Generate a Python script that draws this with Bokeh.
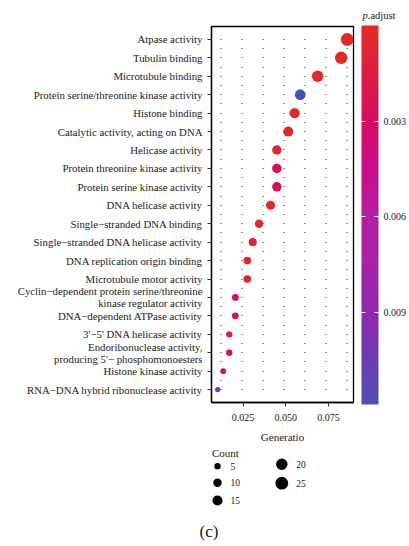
import numpy as np
from bokeh.plotting import figure
from bokeh.models import (FactorRange, Range1d, FixedTicker, ColorBar, LinearColorMapper,
                          Label, Grid, ColumnDataSource, NumeralTickFormatter,
                          CustomJSTickFormatter, AllLabels)
from bokeh.layouts import column
from bokeh.embed import file_html
from bokeh.resources import INLINE

# ---------------- data (top to bottom) ----------------
terms = [
    "Atpase activity",
    "Tubulin binding",
    "Microtubule binding",
    "Protein serine/threonine kinase activity",
    "Histone binding",
    "Catalytic activity, acting on DNA",
    "Helicase activity",
    "Protein threonine kinase activity",
    "Protein serine kinase activity",
    "DNA helicase activity",
    "Single\u2212stranded DNA binding",
    "Single\u2212stranded DNA helicase activity",
    "DNA replication origin binding",
    "Microtubule motor activity",
    "Cyclin\u2212dependent protein serine/threonine\nkinase regulator activity",
    "DNA\u2212dependent ATPase activity",
    "3'\u22125' DNA helicase activity",
    "Endoribonuclease activity,\nproducing 5'\u2212 phosphomonoesters",
    "Histone kinase activity",
    "RNA\u2212DNA hybrid ribonuclease activity",
]
gene_ratio = [0.0860, 0.0825, 0.0687, 0.0585, 0.0552, 0.0515, 0.0448, 0.0448, 0.0448, 0.0411,
              0.0344, 0.0307, 0.0275, 0.0275, 0.0205, 0.0205, 0.0169, 0.0169, 0.0134, 0.0101]
counts = [25, 24, 20, 17, 16, 15, 13, 13, 13, 12, 10, 9, 8, 8, 6, 6, 5, 5, 4, 3]
p_adjust = [0.0004, 0.0004, 0.0005, 0.0118, 0.0005, 0.0005, 0.0006, 0.0027, 0.0027, 0.0006,
            0.0006, 0.0008, 0.0008, 0.0008, 0.0029, 0.0029, 0.0010, 0.0029, 0.0022, 0.0097]
x_ticks = [0.025, 0.050, 0.075]
cbar_ticks = [0.003, 0.006, 0.009]
legend_counts = [5, 10, 15, 20, 25]

P_LOW, P_HIGH = 0.0, 0.0119
FONT = "Liberation Serif"
TXT = "#1a1a1a"

def size_of(c):
    return 1.2 + 2.3 * np.sqrt(np.asarray(c, dtype=float))

# palette red -> magenta -> purple -> blue
anch_v = np.array([0.0, 0.0015, 0.003, 0.0045, 0.006, 0.009, 0.0119])
anch_c = np.array([(227, 45, 30), (223, 28, 65), (214, 12, 100), (200, 15, 140),
                   (182, 30, 160), (146, 40, 176), (76, 80, 180)], dtype=float)
grid_v = np.linspace(P_LOW, P_HIGH, 256)
pal = []
for v in grid_v:
    rgb = [int(round(np.interp(v, anch_v, anch_c[:, k]))) for k in range(3)]
    pal.append("#%02x%02x%02x" % tuple(rgb))

mapper = LinearColorMapper(palette=pal, low=P_LOW, high=P_HIGH)

src = ColumnDataSource(dict(term=terms, ratio=gene_ratio, count=counts,
                            padj=p_adjust, size=size_of(counts)))


def text_carrier(text, x, y, size, style="normal"):
    """Invisible one-tick colour bar whose tick label places a text outside the frame
    (x: left edge of the text, y: vertical centre, both relative to frame's bottom-left)."""
    return ColorBar(color_mapper=LinearColorMapper(palette=["#ffffff"], low=0, high=1),
                    width=1, height=20, padding=0, location=(x - 1, y - 10),
                    scale_alpha=0, ticker=FixedTicker(ticks=[0.5]),
                    formatter=CustomJSTickFormatter(code="return %r" % text),
                    major_label_policy=AllLabels(), label_standoff=0,
                    major_label_text_font=FONT, major_label_text_font_size=size,
                    major_label_text_font_style=style, major_label_text_color=TXT,
                    major_tick_line_color=None, minor_tick_line_color=None,
                    bar_line_color=None, border_line_color=None, background_fill_alpha=0)


# ---------------- main figure ----------------
yr = FactorRange(factors=terms[::-1], range_padding=0.2, range_padding_units="absolute")
p = figure(width=409, height=445, y_range=yr, x_range=Range1d(0.0065, 0.0897),
           output_backend="svg", toolbar_location=None,
           min_border_left=211, min_border_right=56, min_border_top=26, min_border_bottom=43)
p.background_fill_color = "white"
p.border_fill_color = "white"
p.outline_line_color = "black"
p.outline_line_width = 1.3

p.xgrid.visible = False
p.ygrid.grid_line_color = "#222222"
p.ygrid.grid_line_width = 1
p.ygrid.grid_line_dash = "1 20"
p.ygrid.grid_line_dash_offset = 12
mid = Grid(dimension=1, ticker=FixedTicker(ticks=list(range(1, len(terms)))),
           grid_line_color="#222222", grid_line_width=1,
           grid_line_dash="1 20", grid_line_dash_offset=12)
p.add_layout(mid)

p.scatter(x="ratio", y="term", size="size", source=src,
          fill_color={"field": "padj", "transform": mapper}, line_color=None)

for ax in (p.xaxis[0], p.yaxis[0]):
    ax.axis_line_color = "black"
    ax.axis_line_width = 1.3
    ax.major_tick_line_color = "#333333"
    ax.major_tick_in = 0
    ax.major_tick_out = 4
    ax.minor_tick_line_color = None
    ax.major_label_text_font = FONT
    ax.major_label_text_color = TXT

p.yaxis.major_label_text_font_size = "10.8px"
p.yaxis.major_label_text_line_height = 1.0
p.yaxis.major_label_standoff = 5

p.xaxis.ticker = FixedTicker(ticks=x_ticks)
p.xaxis.formatter = NumeralTickFormatter(format="0.000")
p.xaxis.major_label_text_font_size = "10px"
p.xaxis.major_label_standoff = 7
p.xaxis.axis_label = "Generatio"
p.xaxis.axis_label_text_font = FONT
p.xaxis.axis_label_text_font_size = "11px"
p.xaxis.axis_label_text_font_style = "normal"
p.xaxis.axis_label_text_color = TXT
p.xaxis.axis_label_standoff = 7

# colour bar (reversed: low values on top)
cb_mapper = LinearColorMapper(palette=pal[::-1], low=P_LOW, high=P_HIGH)
cb = ColorBar(color_mapper=cb_mapper, width=17, height=379, padding=0,
              location=(150, -2), title=None,
              ticker=FixedTicker(ticks=[P_LOW + P_HIGH - t for t in cbar_ticks]),
              formatter=CustomJSTickFormatter(code="return (%r - tick).toFixed(3)" % (P_LOW + P_HIGH)),
              major_label_policy=AllLabels(),
              major_tick_line_color="white", major_tick_in=17, major_tick_out=0,
              major_tick_line_dash="4 9", major_tick_line_width=1.2,
              minor_tick_line_color=None, bar_line_color=None, border_line_color=None,
              background_fill_alpha=0, label_standoff=5,
              major_label_text_font=FONT, major_label_text_font_size="10px",
              major_label_text_color=TXT)
p.add_layout(cb, "center")
# colour-bar title: italic "p" + upright ".adjust"
p.add_layout(text_carrier("p", 151, 387, "10.5px", "italic"), "center")
p.add_layout(text_carrier(".adjust", 156.3, 387, "10.5px"), "center")

# ---------------- legend figure (frame aligned with main frame) ----------------
L = figure(width=409, height=101, x_range=Range1d(0, 142), y_range=Range1d(101, 0),
           output_backend="svg", toolbar_location=None,
           x_axis_location=None, y_axis_location=None,
           min_border=0, min_border_left=0, min_border_right=0,
           min_border_top=0, min_border_bottom=0)
L.outline_line_color = None
L.xgrid.visible = False
L.ygrid.visible = False
L.background_fill_color = "white"
L.border_fill_color = "white"

leg_x = [6, 6, 6, 70.3, 70.3]
leg_y = [20.7, 37.3, 55, 18.7, 37.7]
leg_lab_x = [19, 19, 19, 84.7, 84.7]
L.scatter(x=leg_x, y=leg_y, size=size_of(legend_counts), fill_color="black", line_color=None)
for lx, ly, c in zip(leg_lab_x, leg_y, legend_counts):
    L.add_layout(Label(x=lx, y=ly, text=str(c), text_font=FONT, text_font_size="9.5px",
                       text_baseline="middle", text_align="left", text_color=TXT))
L.add_layout(Label(x=0.5, y=7, text="Count", text_font=FONT, text_font_size="11px",
                   text_baseline="middle", text_align="left", text_color=TXT))
# panel tag "(c)" left of the frame
L.add_layout(text_carrier("(c)", -12, 15, "17px"), "center")

layout = column(p, L)
open("out.html", "w").write(file_html(layout, INLINE))
